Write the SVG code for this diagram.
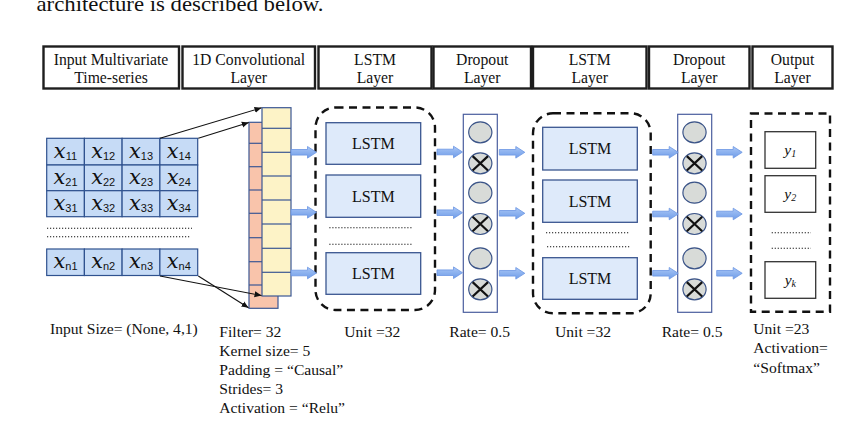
<svg xmlns="http://www.w3.org/2000/svg" width="850" height="423" viewBox="0 0 850 423">
<style>
text{font-family:"Liberation Serif","Times New Roman",serif;fill:#111}
.hdr{fill:#fff;stroke:#1e1e1e;stroke-width:2.4}
.ht{font-size:15.7px;text-anchor:middle}
.cell{fill:#c6dbf6;stroke:#2f528f;stroke-width:1.2}
text.xv{font-size:21px;font-style:italic;font-family:"DejaVu Serif","Liberation Serif",serif}
tspan.sub{font-family:"Liberation Sans",Arial,sans-serif;font-size:11px;font-style:normal}
.pink{fill:#f9c4ab;stroke:#3b5794;stroke-width:1.2}
.yel{fill:#fdf3c7;stroke:#3b5794;stroke-width:1.2}
.dl{stroke:#3b5794;stroke-width:1.2}
.dash{fill:none;stroke:#111;stroke-width:2.4;stroke-dasharray:8 5.5}
.lstm{fill:#deeafa;stroke:#3a5690;stroke-width:1.3}
.lt{font-size:16px;text-anchor:middle}
.dots{stroke:#111;stroke-width:1.1;stroke-dasharray:1.2 1.8}
.drop{fill:#fff;stroke:#4a5e9e;stroke-width:1.2}
.circ{fill:#d8dbd8;stroke:#3b5488;stroke-width:1.2}
.xx{stroke:#111;stroke-width:2.2}
.ybox{fill:#fff;stroke:#333;stroke-width:1.3}
.yt{font-size:15.5px;font-style:italic;text-anchor:middle}
.bt{font-size:15.6px}
.thin{stroke:#111;stroke-width:1.1;fill:none;marker-end:url(#ah)}
.barrow{fill:url(#bg);stroke:#6b96e3;stroke-width:0.8}
</style>
<defs>
<marker id="ah" markerWidth="8" markerHeight="8" refX="7" refY="4" orient="auto" markerUnits="userSpaceOnUse">
<path d="M0,1 L7,4 L0,7 Z" fill="#111"/>
</marker>
<linearGradient id="bg" x1="0" y1="0" x2="0" y2="1">
<stop offset="0" stop-color="#a9c6f5"/>
<stop offset="1" stop-color="#6f9de9"/>
</linearGradient>
<symbol id="ba" overflow="visible">
<polygon class="barrow" points="0,-2.8 16.5,-2.8 16.5,-5.8 25.5,0 16.5,5.8 16.5,2.8 0,2.8"/>
</symbol>
</defs>

<text x="36.5" y="10.5" font-size="22" textLength="287" lengthAdjust="spacingAndGlyphs">architecture is described below.</text>

<g id="headers">
<g id="h-input"><rect class="hdr" x="43.5" y="46.5" width="135.5" height="42"/><text class="ht" x="111" y="64.5">Input Multivariate</text><text class="ht" x="111" y="82.5">Time-series</text></g>
<g id="h-conv"><rect class="hdr" x="182.5" y="46.5" width="132.5" height="42"/><text class="ht" x="248.7" y="64.5">1D Convolutional</text><text class="ht" x="248.7" y="82.5">Layer</text></g>
<g id="h-lstm1"><rect class="hdr" x="318.5" y="46.5" width="113" height="42"/><text class="ht" x="375" y="64.5">LSTM</text><text class="ht" x="375" y="82.5">Layer</text></g>
<g id="h-drop1"><rect class="hdr" x="433.5" y="46.5" width="97.5" height="42"/><text class="ht" x="482.2" y="64.5">Dropout</text><text class="ht" x="482.2" y="82.5">Layer</text></g>
<g id="h-lstm2"><rect class="hdr" x="533" y="46.5" width="113.5" height="42"/><text class="ht" x="589.7" y="64.5">LSTM</text><text class="ht" x="589.7" y="82.5">Layer</text></g>
<g id="h-drop2"><rect class="hdr" x="649" y="46.5" width="100.5" height="42"/><text class="ht" x="699.2" y="64.5">Dropout</text><text class="ht" x="699.2" y="82.5">Layer</text></g>
<g id="h-out"><rect class="hdr" x="752.5" y="46.5" width="80" height="42"/><text class="ht" x="792.5" y="64.5">Output</text><text class="ht" x="792.5" y="82.5">Layer</text></g>
</g>

<g id="input-grid">
<rect class="cell" x="46.7" y="138.3" width="37.7" height="26.7"/>
<rect class="cell" x="84.4" y="138.3" width="37.7" height="26.7"/>
<rect class="cell" x="122.1" y="138.3" width="37.8" height="26.7"/>
<rect class="cell" x="159.9" y="138.3" width="37.8" height="26.7"/>
<rect class="cell" x="46.7" y="165" width="37.7" height="25.7"/>
<rect class="cell" x="84.4" y="165" width="37.7" height="25.7"/>
<rect class="cell" x="122.1" y="165" width="37.8" height="25.7"/>
<rect class="cell" x="159.9" y="165" width="37.8" height="25.7"/>
<rect class="cell" x="46.7" y="190.7" width="37.7" height="26"/>
<rect class="cell" x="84.4" y="190.7" width="37.7" height="26"/>
<rect class="cell" x="122.1" y="190.7" width="37.8" height="26"/>
<rect class="cell" x="159.9" y="190.7" width="37.8" height="26"/>
<rect class="cell" x="46.7" y="249" width="37.7" height="26.5"/>
<rect class="cell" x="84.4" y="249" width="37.7" height="26.5"/>
<rect class="cell" x="122.1" y="249" width="37.8" height="26.5"/>
<rect class="cell" x="159.9" y="249" width="37.8" height="26.5"/>
<text class="xv" x="65.5" y="157.5" text-anchor="middle">x<tspan class="sub" dy="2">11</tspan></text>
<text class="xv" x="103.2" y="157.5" text-anchor="middle">x<tspan class="sub" dy="2">12</tspan></text>
<text class="xv" x="141" y="157.5" text-anchor="middle">x<tspan class="sub" dy="2">13</tspan></text>
<text class="xv" x="178.8" y="157.5" text-anchor="middle">x<tspan class="sub" dy="2">14</tspan></text>
<text class="xv" x="65.5" y="183.5" text-anchor="middle">x<tspan class="sub" dy="2">21</tspan></text>
<text class="xv" x="103.2" y="183.5" text-anchor="middle">x<tspan class="sub" dy="2">22</tspan></text>
<text class="xv" x="141" y="183.5" text-anchor="middle">x<tspan class="sub" dy="2">23</tspan></text>
<text class="xv" x="178.8" y="183.5" text-anchor="middle">x<tspan class="sub" dy="2">24</tspan></text>
<text class="xv" x="65.5" y="209.5" text-anchor="middle">x<tspan class="sub" dy="2">31</tspan></text>
<text class="xv" x="103.2" y="209.5" text-anchor="middle">x<tspan class="sub" dy="2">32</tspan></text>
<text class="xv" x="141" y="209.5" text-anchor="middle">x<tspan class="sub" dy="2">33</tspan></text>
<text class="xv" x="178.8" y="209.5" text-anchor="middle">x<tspan class="sub" dy="2">34</tspan></text>
<text class="xv" x="65.5" y="267.5" text-anchor="middle">x<tspan class="sub" dy="2">n1</tspan></text>
<text class="xv" x="103.2" y="267.5" text-anchor="middle">x<tspan class="sub" dy="2">n2</tspan></text>
<text class="xv" x="141" y="267.5" text-anchor="middle">x<tspan class="sub" dy="2">n3</tspan></text>
<text class="xv" x="178.8" y="267.5" text-anchor="middle">x<tspan class="sub" dy="2">n4</tspan></text>
<line class="dots" x1="47" y1="228.3" x2="192" y2="228.3"/>
<line class="dots" x1="47" y1="236.7" x2="190" y2="236.7"/>
</g>

<g id="conv-layer">
<rect class="pink" x="249" y="122.3" width="29" height="186"/>
<line class="dl" x1="249" y1="143.3" x2="262" y2="143.3"/>
<line class="dl" x1="249" y1="166.7" x2="262" y2="166.7"/>
<line class="dl" x1="249" y1="190" x2="262" y2="190"/>
<line class="dl" x1="249" y1="213.3" x2="262" y2="213.3"/>
<line class="dl" x1="249" y1="237.7" x2="262" y2="237.7"/>
<line class="dl" x1="249" y1="261.7" x2="262" y2="261.7"/>
<line class="dl" x1="249" y1="285" x2="262" y2="285"/>
<rect class="yel" x="262" y="107.7" width="29" height="188.3"/>
<line class="dl" x1="262" y1="128.3" x2="291" y2="128.3"/>
<line class="dl" x1="262" y1="152.3" x2="291" y2="152.3"/>
<line class="dl" x1="262" y1="176" x2="291" y2="176"/>
<line class="dl" x1="262" y1="200" x2="291" y2="200"/>
<line class="dl" x1="262" y1="224" x2="291" y2="224"/>
<line class="dl" x1="262" y1="248.3" x2="291" y2="248.3"/>
<line class="dl" x1="262" y1="272.3" x2="291" y2="272.3"/>
</g>

<g id="lstm1">
<rect class="dash" x="315.5" y="107.5" width="119.5" height="202.5" rx="20"/>
<rect class="lstm" x="326" y="122.7" width="94.7" height="41.6"/><text class="lt" x="373.3" y="149">LSTM</text>
<rect class="lstm" x="326" y="175" width="94.7" height="42.3"/><text class="lt" x="373.3" y="201.7">LSTM</text>
<line class="dots" x1="329.3" y1="227.7" x2="412.7" y2="227.7"/>
<line class="dots" x1="329.3" y1="244.3" x2="412.7" y2="244.3"/>
<rect class="lstm" x="326" y="252.7" width="94.7" height="41.6"/><text class="lt" x="373.3" y="279">LSTM</text>
</g>

<g id="dropout1">
<rect class="drop" x="463.3" y="114.3" width="34" height="198"/>
<ellipse class="circ" cx="480.3" cy="132.3" rx="11.6" ry="10.5"/>
<ellipse class="circ" cx="480.3" cy="163.3" rx="11.6" ry="10.5"/>
<path class="xx" d="M472.6,156.1 L488,170.5 M488,156.1 L472.6,170.5"/>
<ellipse class="circ" cx="480.3" cy="192.7" rx="11.6" ry="10.5"/>
<ellipse class="circ" cx="480.3" cy="224" rx="11.6" ry="10.5"/>
<path class="xx" d="M472.6,216.8 L488,231.2 M488,216.8 L472.6,231.2"/>
<ellipse class="circ" cx="480.3" cy="258.3" rx="11.6" ry="10.5"/>
<ellipse class="circ" cx="480.3" cy="289.3" rx="11.6" ry="10.5"/>
<path class="xx" d="M472.6,282.1 L488,296.5 M488,282.1 L472.6,296.5"/>
</g>

<g id="lstm2">
<rect class="dash" x="533" y="113.3" width="117.7" height="200" rx="20"/>
<rect class="lstm" x="542.7" y="127.3" width="94.6" height="42.7"/><text class="lt" x="590" y="154">LSTM</text>
<rect class="lstm" x="542.7" y="180" width="94.6" height="42.3"/><text class="lt" x="590" y="206.5">LSTM</text>
<line class="dots" x1="546" y1="232.7" x2="630" y2="232.7"/>
<line class="dots" x1="547" y1="246.7" x2="630" y2="246.7"/>
<rect class="lstm" x="542.7" y="257.7" width="94.6" height="41.6"/><text class="lt" x="590" y="284">LSTM</text>
</g>

<g id="dropout2">
<rect class="drop" x="677.7" y="114.3" width="34" height="198"/>
<ellipse class="circ" cx="694.5" cy="132.3" rx="11.6" ry="10.5"/>
<ellipse class="circ" cx="694.5" cy="163.3" rx="11.6" ry="10.5"/>
<path class="xx" d="M686.8,156.1 L702.2,170.5 M702.2,156.1 L686.8,170.5"/>
<ellipse class="circ" cx="694.5" cy="192.7" rx="11.6" ry="10.5"/>
<ellipse class="circ" cx="694.5" cy="224" rx="11.6" ry="10.5"/>
<path class="xx" d="M686.8,216.8 L702.2,231.2 M702.2,216.8 L686.8,231.2"/>
<ellipse class="circ" cx="694.5" cy="258.3" rx="11.6" ry="10.5"/>
<ellipse class="circ" cx="694.5" cy="289.3" rx="11.6" ry="10.5"/>
<path class="xx" d="M686.8,282.1 L702.2,296.5 M702.2,282.1 L686.8,296.5"/>
</g>

<g id="output">
<rect class="dash" x="751" y="113.5" width="79" height="198.2"/>
<rect class="ybox" x="765" y="131.7" width="50.7" height="36.6"/><text class="yt" x="790.3" y="155">y<tspan font-size="10" dy="2">1</tspan></text>
<rect class="ybox" x="765" y="175.7" width="50.7" height="36.6"/><text class="yt" x="790.3" y="199">y<tspan font-size="10" dy="2">2</tspan></text>
<line class="dots" x1="771.7" y1="232.7" x2="811" y2="232.7"/>
<line class="dots" x1="771.7" y1="248.3" x2="811" y2="248.3"/>
<rect class="ybox" x="765" y="261.7" width="50.7" height="36.6"/><text class="yt" x="790.3" y="285">y<tspan font-size="10" dy="2">k</tspan></text>
</g>

<g id="connectors">
<line class="thin" x1="160" y1="138.3" x2="261.5" y2="107.8"/>
<line class="thin" x1="198.3" y1="138.3" x2="248.8" y2="122.5"/>
<line class="thin" x1="160" y1="276" x2="261.5" y2="295.5"/>
<line class="thin" x1="198.3" y1="276" x2="248.5" y2="307.8"/>
<use href="#ba" x="291" y="152.3"/>
<use href="#ba" x="291" y="212.3"/>
<use href="#ba" x="291" y="273"/>
<use href="#ba" x="437" y="152"/>
<use href="#ba" x="437" y="212.7"/>
<use href="#ba" x="437" y="272.7"/>
<use href="#ba" x="499.3" y="152.3"/>
<use href="#ba" x="499.3" y="213.3"/>
<use href="#ba" x="499.3" y="273.3"/>
<use href="#ba" x="652.7" y="152.3"/>
<use href="#ba" x="652.7" y="214"/>
<use href="#ba" x="652.7" y="273.3"/>
<use href="#ba" x="716.7" y="152.3"/>
<use href="#ba" x="716.7" y="214"/>
<use href="#ba" x="716.7" y="273.3"/>
</g>

<g id="params">
<text class="bt" x="50" y="334">Input Size= (None, 4,1)</text>
<text class="bt" x="219.3" y="336.7">Filter= 32</text>
<text class="bt" x="219.3" y="356">Kernel size= 5</text>
<text class="bt" x="219.3" y="375">Padding = “Causal”</text>
<text class="bt" x="219.3" y="394">Strides= 3</text>
<text class="bt" x="219.3" y="413.3">Activation = “Relu”</text>
<text class="bt" x="344.3" y="336.7">Unit =32</text>
<text class="bt" x="449.3" y="336.7">Rate= 0.5</text>
<text class="bt" x="555" y="337">Unit =32</text>
<text class="bt" x="661.7" y="336.7">Rate= 0.5</text>
<text class="bt" x="753.3" y="334">Unit =23</text>
<text class="bt" x="753.3" y="353.3">Activation=</text>
<text class="bt" x="753.3" y="372.7">“Softmax”</text>
</g>
</svg>
